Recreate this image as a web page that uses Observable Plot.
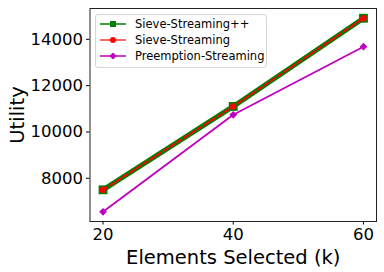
<!DOCTYPE html>
<html><head><meta charset="utf-8">
<script src="https://cdn.jsdelivr.net/npm/d3@7"></script>
<script src="https://cdn.jsdelivr.net/npm/@observablehq/plot@0.6"></script>
<style>
body{margin:0;background:#fff;font-family:"DejaVu Sans",sans-serif;}
#wrap{position:relative;width:384px;height:272px;}
#legend{position:absolute;left:95px;top:14px;width:170px;height:52px;border:1px solid #d6d6d6;border-radius:3px;background:rgba(255,255,255,0.8);font-size:11.5px;color:#000;}
.row{position:absolute;left:0;height:16px;display:flex;align-items:center;}
.row svg{margin-left:4px;}
.row span{margin-left:9px;}
</style></head>
<body><div id="wrap"></div>
<script>
const ks = [20, 40, 60];
const sievePP = [7500, 11100, 14910];
const sieve = [7500, 11100, 14910];
const preempt = [6550, 10740, 13680];
const seriesNames = ["Sieve-Streaming++", "Sieve-Streaming", "Preemption-Streaming"];
const colors = ["#008000", "#ff0000", "#bf00bf"];
const yTicks = [8000, 10000, 12000, 14000];
const xTicks = [20, 40, 60];

const rows = (vals) => ks.map((k, i) => ({k, v: vals[i]}));
const dPP = rows(sievePP), dS = rows(sieve), dP = rows(preempt);

const chart = Plot.plot({
  width: 384, height: 272,
  marginLeft: 89.5, marginRight: 8, marginTop: 8, marginBottom: 51,
  style: {fontFamily: "DejaVu Sans", color: "#000", background: "#fff", overflow: "visible"},
  x: {domain: [18, 62]},
  y: {domain: [6132, 15331]},
  marks: [
    Plot.line(dP, {x: "k", y: "v", stroke: colors[2], strokeWidth: 1.8}),
    Plot.dot(dP, {x: "k", y: "v", symbol: "diamond2", r: 3.5, fill: colors[2], stroke: "none"}),
    Plot.line(dPP, {x: "k", y: "v", stroke: colors[0], strokeWidth: 5}),
    Plot.dot(dPP, {x: "k", y: "v", symbol: "square", r: 5, fill: colors[0], stroke: "none"}),
    Plot.line(dS, {x: "k", y: "v", stroke: colors[1], strokeWidth: 2, strokeDasharray: "5,3"}),
    Plot.dot(dS, {x: "k", y: "v", symbol: "circle", r: 3.2, fill: colors[1], stroke: "none"}),
    Plot.frame({stroke: "#222", strokeWidth: 1}),
    Plot.axisX({ticks: xTicks, tickSize: 3.5, tickPadding: 3, fontSize: 16.5, tickFormat: d => String(d),
      label: "Elements Selected (k)", labelAnchor: "center", labelArrow: "none", labelOffset: 42}),
    Plot.axisY({ticks: yTicks, tickSize: 3.5, tickPadding: 3.5, fontSize: 16.5, tickFormat: d => String(d),
      label: "Utility", labelAnchor: "center", labelArrow: "none", labelOffset: 80})
  ]
});
chart.querySelectorAll('[aria-label="x-axis label"] text, [aria-label="y-axis label"] text').forEach(t => t.style.fontSize = "19.5px");
const wrap = document.getElementById("wrap");
wrap.appendChild(chart);

const legend = document.createElement("div");
legend.id = "legend";
const markers = [
  '<rect x="10" y="4" width="6" height="6" fill="#008000"/>',
  '<circle cx="13" cy="7" r="3" fill="#ff0000"/>',
  '<path d="M13 3.5 L16.5 7 L13 10.5 L9.5 7Z" fill="#bf00bf"/>'
];
seriesNames.forEach((name, i) => {
  const r = document.createElement("div");
  r.className = "row";
  r.style.top = (1 + i * 16) + "px";
  r.innerHTML = `<svg width="26" height="14"><line x1="0" x2="26" y1="7" y2="7" stroke="${colors[i]}" stroke-width="1.5" ${i===1?'stroke-opacity="0.8"':''}/>${markers[i]}</svg><span>${name}</span>`;
  legend.appendChild(r);
});
wrap.appendChild(legend);
</script></body></html>
